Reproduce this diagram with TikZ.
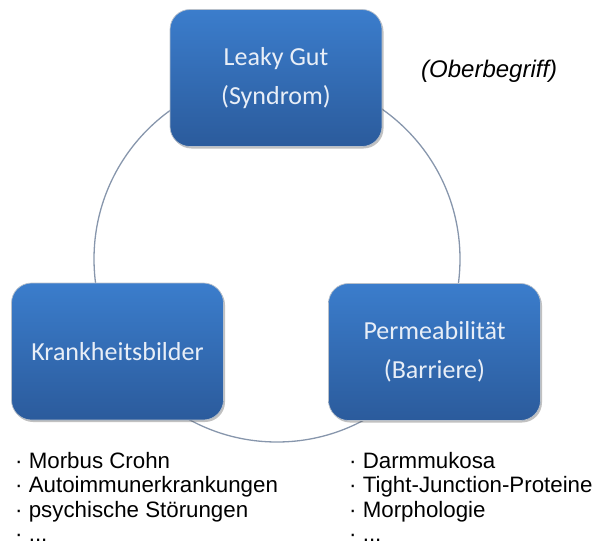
\documentclass[tikz,border=0pt]{standalone}
\usepackage{fontspec}
\setmainfont{Liberation Sans}
\newfontfamily\boxfont{Carlito}
\usetikzlibrary{shadows}
\definecolor{boxtop}{HTML}{3B7DCC}
\definecolor{boxbot}{HTML}{2B5B9C}
\definecolor{boxtext}{HTML}{E8EEF7}
\definecolor{ringcol}{HTML}{8796AC}
\definecolor{boxedge}{HTML}{B8C0CA}
\tikzset{
  bluebox/.style={rectangle, rounded corners=20pt, minimum width=212pt, minimum height=137pt,
    top color=boxtop, bottom color=boxbot, draw=boxedge, line width=0.7pt,
    drop shadow={shadow xshift=1.5pt, shadow yshift=-2pt, opacity=0.35, fill=black!70},
    text=boxtext, align=center, font=\boxfont\fontsize{26}{39}\selectfont, inner sep=0pt},
  listitem/.style={anchor=base west, inner sep=0pt, font=\fontsize{22.3}{24}\selectfont, text=black}
}
\begin{document}
\begin{tikzpicture}[x=1pt,y=-1pt]
\useasboundingbox (0,0) rectangle (594,552);
\draw[ringcol, line width=1.3pt] (277,259) circle[radius=183pt];
\node[bluebox] (top) at (276,78) {Leaky Gut\\(Syndrom)};
\node[bluebox] (left) at (117.5,351.5) {Krankheitsbilder};
\node[bluebox] (right) at (434.5,352) {Permeabilität\\(Barriere)};
\node[anchor=base west, inner sep=0pt, font=\itshape\fontsize{24}{26}\selectfont] (ober) at (421,77) {(Oberbegriff)};
\node[listitem] (l1) at (15,468) {· Morbus Crohn};
\node[listitem] (l2) at (15,492.5) {· Autoimmunerkrankungen};
\node[listitem] (l3) at (15,517) {· psychische Störungen};
\node[listitem] (l4) at (15,541.5) {· ...};
\node[listitem] (r1) at (349,468) {· Darmmukosa};
\node[listitem] (r2) at (349,492.5) {· Tight-Junction-Proteine};
\node[listitem] (r3) at (349,517) {· Morphologie};
\node[listitem] (r4) at (349,541.5) {· ...};
\end{tikzpicture}
\end{document}
